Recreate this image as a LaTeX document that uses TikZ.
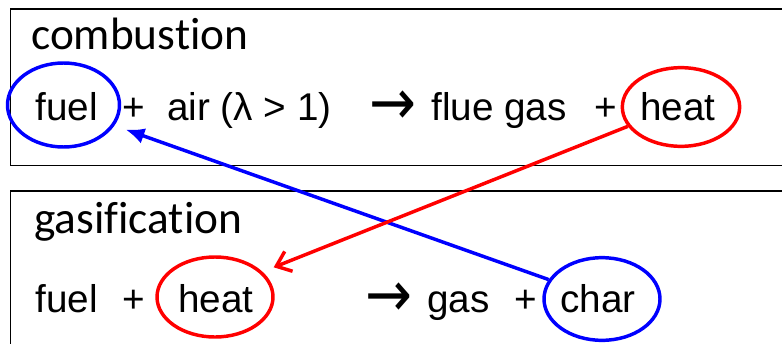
\documentclass[tikz,border=0pt]{standalone}
\usepackage{fontspec}
\setmainfont{Liberation Sans}
\newfontfamily\titlefont[Ligatures=NoCommon]{Carlito}
\newfontfamily\arrowfont{DejaVu Sans}
\usetikzlibrary{arrows.meta,shapes.geometric}
\definecolor{ink}{HTML}{000000}
\definecolor{fuelblue}{HTML}{0000FF}
\definecolor{heatred}{HTML}{FF0000}
\newcommand{\yields}{\raisebox{-3.5pt}{\scalebox{1.45}[1.65]{\arrowfont →}}}
\tikzset{
  frame/.style={draw=ink, line width=1.2pt, anchor=north west, minimum width=593pt, inner sep=0pt},
  title/.style={anchor=base west, inner sep=0pt, font=\titlefont\fontsize{34}{40}\selectfont},
  term/.style={anchor=base west, inner sep=0pt, font=\fontsize{29}{34}\selectfont},
  ring/.style={ellipse, draw, line width=2.6pt, inner sep=0pt},
  feed/.style={line width=2.6pt, shorten >=9pt}
}

\begin{document}
\begin{tikzpicture}[x=0.75pt, y=-0.75pt]
  \useasboundingbox (0,0) rectangle (782,343);
  \clip (0,0) rectangle (782,343);

  % the two reaction boxes
  \node[frame, minimum height=117.5pt] (combframe) at (9.5,8) {};
  \node[frame, minimum height=130pt] (gasframe) at (9.5,190) {};

  % combustion
  \node[title] (combtitle) at (31,49) {combustion};
  \node[term] (cfuel) at (35,120) {fuel};
  \node[term] (cplus) at (122,120) {+};
  \node[term] (cair) at (167,120) {air (λ > 1)};
  \node[term] (carrow) at (369,120) {\yields};
  \node[term] (cflue) at (431,120) {flue gas};
  \node[term] (cplusb) at (594,120) {+};
  \node[term] (cheat) at (640,120) {heat};

  % gasification
  \node[title] (gastitle) at (34,233) {gasification};
  \node[term] (gfuel) at (35,312) {fuel};
  \node[term] (gplus) at (122,312) {+};
  \node[term] (gheat) at (178,312) {heat};
  \node[term] (garrow) at (365,312) {\yields};
  \node[term] (ggas) at (427,312) {gas};
  \node[term] (gplusb) at (514,312) {+};
  \node[term] (gchar) at (560,312) {char};

  % circled terms
  \node[ring, draw=fuelblue, minimum width=84pt, minimum height=63pt] (fuelring) at (63.5,105) {};
  \node[ring, draw=heatred, minimum width=88pt, minimum height=59pt] (heatring) at (681,107) {};
  \node[ring, draw=heatred, minimum width=87pt, minimum height=60pt] (gheatring) at (215,297) {};
  \node[ring, draw=fuelblue, minimum width=87pt, minimum height=62pt] (charring) at (602,299) {};

  % char goes back as fuel, heat goes to gasification
  \draw[feed, fuelblue, -{Latex[length=14pt, width=12pt]}] (charring.160) -- (fuelring.-22);
  \draw[feed, heatred, -{Straight Barb[length=10pt, width=16pt, line width=2.6pt]}] (heatring.200) -- (gheatring.28);
\end{tikzpicture}
\end{document}
